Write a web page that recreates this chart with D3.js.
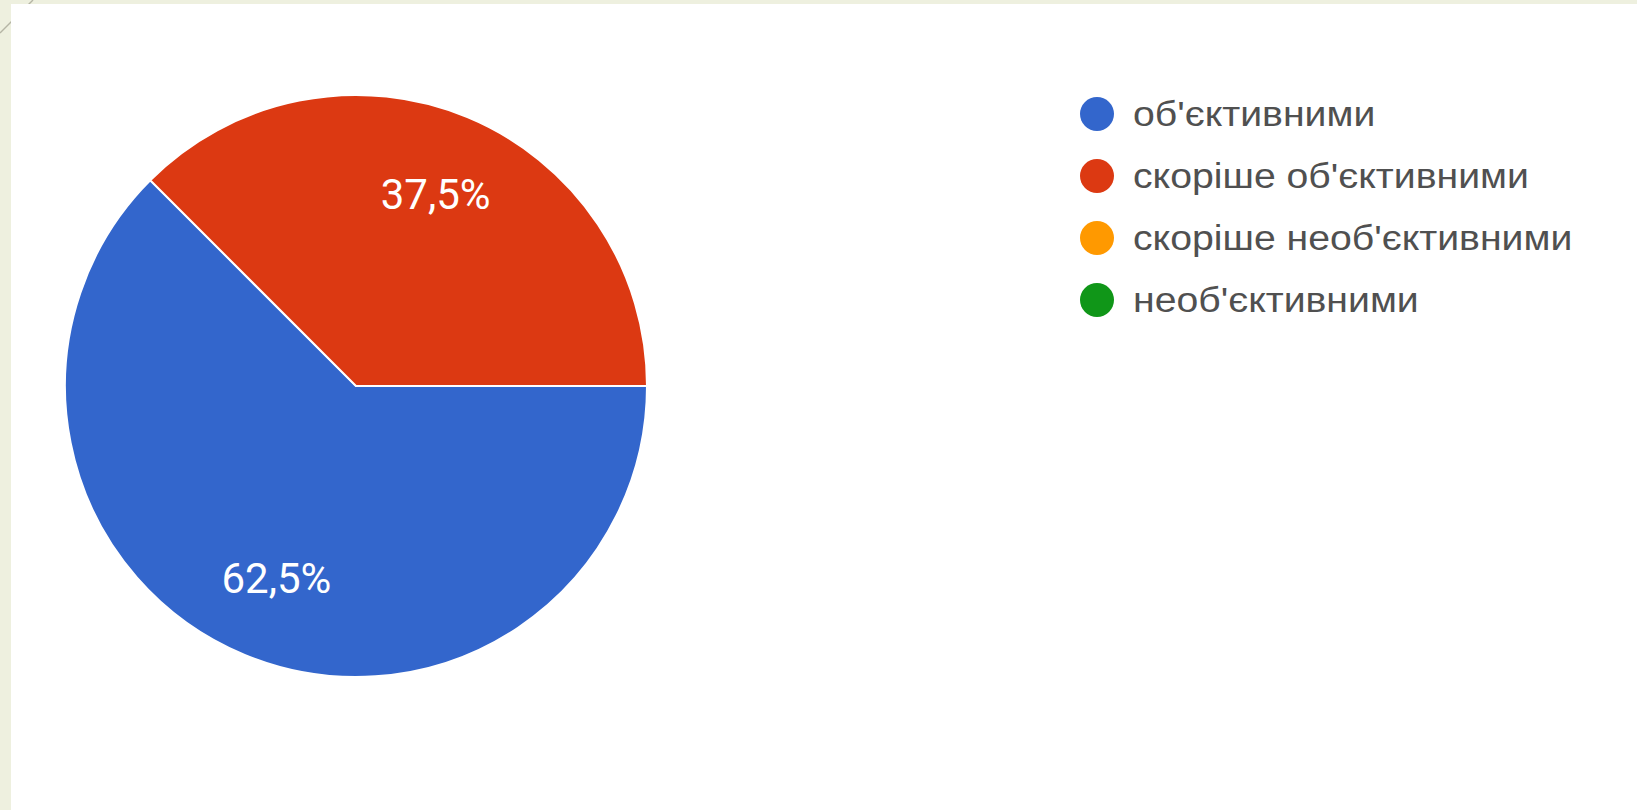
<!DOCTYPE html>
<html>
<head>
<meta charset="utf-8">
<script src="https://cdn.jsdelivr.net/npm/d3@7"></script>
<style>
  html, body { margin: 0; padding: 0; background: #eef0df; }
  svg { display: block; }
</style>
</head>
<body>
<svg id="chart" width="1637" height="810"></svg>
<script>
// Data
const categories = ["об'єктивними", "скоріше об'єктивними", "скоріше необ'єктивними", "необ'єктивними"];
const values = [62.5, 37.5, 0, 0];
const labels = ["62,5%", "37,5%", "", ""];
const colors = ["#3366cc", "#dc3912", "#ff9900", "#109618"];

const svg = d3.select("#chart");
const W = 1637, H = 810;

// background + decorative line + white panel
svg.append("rect").attr("width", W).attr("height", H).attr("fill", "#eef0df");
svg.append("line").attr("x1", 0).attr("y1", 33).attr("x2", 33).attr("y2", 0)
  .attr("stroke", "#b5b5a5").attr("stroke-width", 1.4);
svg.append("rect").attr("x", 11).attr("y", 4).attr("width", W - 11).attr("height", H - 4).attr("fill", "#ffffff");

// Pie
const cx = 356, cy = 386, r = 291;
const data = categories.map((c, i) => ({ cat: c, value: values[i], label: labels[i], color: colors[i] }));
const pie = d3.pie().value(d => d.value).sort(null)
  .startAngle(Math.PI / 2).endAngle(Math.PI / 2 + 2 * Math.PI);
const arcs = pie(data);
const arc = d3.arc().innerRadius(0).outerRadius(r);
const labelArc = d3.arc().innerRadius(r * 0.715).outerRadius(r * 0.715);

const g = svg.append("g").attr("transform", `translate(${cx},${cy})`);
g.selectAll("path.slice").data(arcs.filter(a => a.data.value > 0)).join("path")
  .attr("class", "slice")
  .attr("d", arc)
  .attr("fill", d => d.data.color)
  .attr("stroke", "#ffffff")
  .attr("stroke-width", 2);

g.selectAll("text.lbl").data(arcs.filter(a => a.data.value > 0)).join("text")
  .attr("class", "lbl")
  .attr("transform", d => `translate(${labelArc.centroid(d)})`)
  .attr("text-anchor", "middle")
  .attr("dy", "0.355em")
  .attr("font-family", "Roboto, Arial, sans-serif")
  .attr("font-size", 42)
  .attr("fill", "#ffffff")
  .text(d => d.data.label);

// Legend
const legendX = 1097, legendY0 = 114, legendStep = 62;
const lg = svg.append("g");
const items = lg.selectAll("g.item").data(data).join("g")
  .attr("class", "item")
  .attr("transform", (d, i) => `translate(${legendX},${legendY0 + i * legendStep})`);
items.append("circle").attr("r", 17).attr("fill", d => d.color);
items.append("text")
  .attr("transform", "translate(36,0) scale(1.12,1)")
  .attr("dominant-baseline", "central")
  .attr("font-family", "Arial, 'Liberation Sans', sans-serif")
  .attr("font-size", 35)
  .attr("fill", "#505050")
  .text(d => d.cat);
</script>
</body>
</html>
